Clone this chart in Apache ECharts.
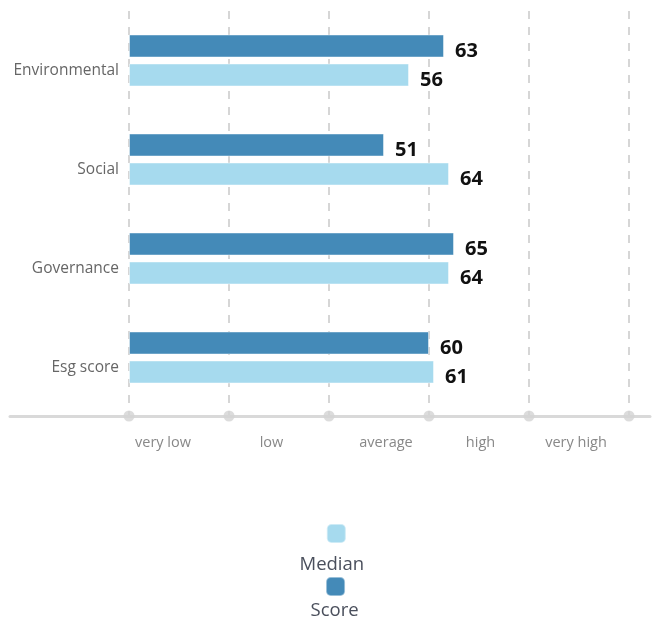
<!DOCTYPE html>
<html><head><meta charset="utf-8">
<script src="https://cdn.jsdelivr.net/npm/echarts@6/dist/echarts.min.js"></script>
<style>html,body{margin:0;padding:0;background:#fff}#c{width:655px;height:620px}</style>
</head><body><div id="c"></div>
<script>
const categories = ['Environmental', 'Social', 'Governance', 'Esg score'];
const scoreValues = [63, 51, 65, 60];
const medianValues = [56, 64, 64, 61];
const tickValues = [0, 20, 40, 60, 80, 100];
const bandLabels = ['very low', 'low', 'average', 'high', 'very high'];
const seriesNames = ['Median', 'Score'];

const FONT = 'Open Sans';
const chart = echarts.init(document.getElementById('c'), null, {renderer: 'canvas'});

const valueLabel = {
  show: true, position: 'right', distance: 11, offset: [0, 5],
  fontFamily: FONT, fontSize: 20, fontWeight: 'bold', color: '#111'
};

// small per-label nudges of the band labels (as in the reference)
const bandPads = [[0, 32, 0, 0], [0, 15, 0, 0], [0, 0, 0, 14], [0, 0, 0, 3], [0, 6, 0, 0]];
const bandRich = {};
bandPads.forEach((p, i) => {
  bandRich['b' + i] = {padding: p, fontSize: 14.5, color: '#888', fontFamily: FONT};
});

function legendFor(name, left, top, padTop, padLeft) {
  return {
    data: [name],
    orient: 'vertical',
    left: left, top: top,
    padding: 0,
    itemWidth: 19, itemHeight: 19,
    icon: 'roundRect',
    formatter: '{n|{name}}',
    textStyle: {
      fontFamily: FONT, fontSize: 18.5, color: '#4a4f5c',
      padding: [padTop, 0, -padTop, padLeft],
      rich: {n: {width: 80, align: 'center', fontFamily: FONT, fontSize: 18.5, color: '#4a4f5c'}}
    }
  };
}

chart.setOption({
  animation: false,
  textStyle: {fontFamily: FONT},
  grid: [
    {left: 129, right: 26, top: 11, height: 396},
    {left: 129, right: 26, top: 11, height: 405},
    {left: 10, right: 5, top: 11, height: 405}
  ],
  xAxis: [
    {gridIndex: 0, type: 'value', min: 0, max: 100, interval: 20, show: false},
    {gridIndex: 1, type: 'value', min: 0, max: 100, interval: 20, position: 'bottom',
      axisLine: {show: false}, axisTick: {show: false}, axisLabel: {show: false},
      splitLine: {show: true, lineStyle: {color: '#d6d6d6', width: 2, type: [8, 8]}}},
    {gridIndex: 1, type: 'category', data: bandLabels, boundaryGap: true, position: 'bottom',
      axisLine: {show: false}, axisTick: {show: false}, splitLine: {show: false},
      axisLabel: {interval: 0, hideOverlap: false, margin: 19, fontSize: 14.5, color: '#888', fontFamily: FONT,
        formatter: (v, i) => '{b' + i + '|' + v + '}', rich: bandRich}},
    {gridIndex: 2, type: 'value', min: 0, max: 1, position: 'bottom',
      axisLine: {show: true, lineStyle: {color: '#d9d9d9', width: 3}},
      axisTick: {show: false}, axisLabel: {show: false}, splitLine: {show: false}}
  ],
  yAxis: [
    {gridIndex: 0, type: 'category', data: categories, inverse: true,
      axisLine: {show: false}, axisTick: {show: false}, splitLine: {show: false},
      axisLabel: {margin: 10, fontSize: 15.5, color: '#666', fontFamily: FONT, verticalAlign: 'top',
        padding: [2.5, 0, 0, 0]}},
    {gridIndex: 1, type: 'value', min: 0, max: 1, show: false},
    {gridIndex: 2, type: 'value', min: 0, max: 1, show: false}
  ],
  legend: [legendFor('Median', 299.5, 523, 31, -59), legendFor('Score', 310.5, 576, 24.5, -55.5)],
  series: [
    {name: 'Score', type: 'bar', xAxisIndex: 0, yAxisIndex: 0, data: scoreValues,
      barWidth: 23, barGap: '26%',
      itemStyle: {color: '#448ab8', borderColor: 'rgba(255,255,255,0.45)', borderWidth: 1},
      label: valueLabel},
    {name: 'Median', type: 'bar', xAxisIndex: 0, yAxisIndex: 0, data: medianValues,
      barWidth: 23, barGap: '26%',
      itemStyle: {color: '#a6daee', borderColor: 'rgba(255,255,255,0.45)', borderWidth: 1},
      label: valueLabel},
    {type: 'scatter', xAxisIndex: 1, yAxisIndex: 1, z: 5, silent: true,
      data: tickValues.map(v => [v, 0]), symbol: 'circle', symbolSize: 11,
      itemStyle: {color: '#d3d3d3'}}
  ]
});
</script></body></html>
